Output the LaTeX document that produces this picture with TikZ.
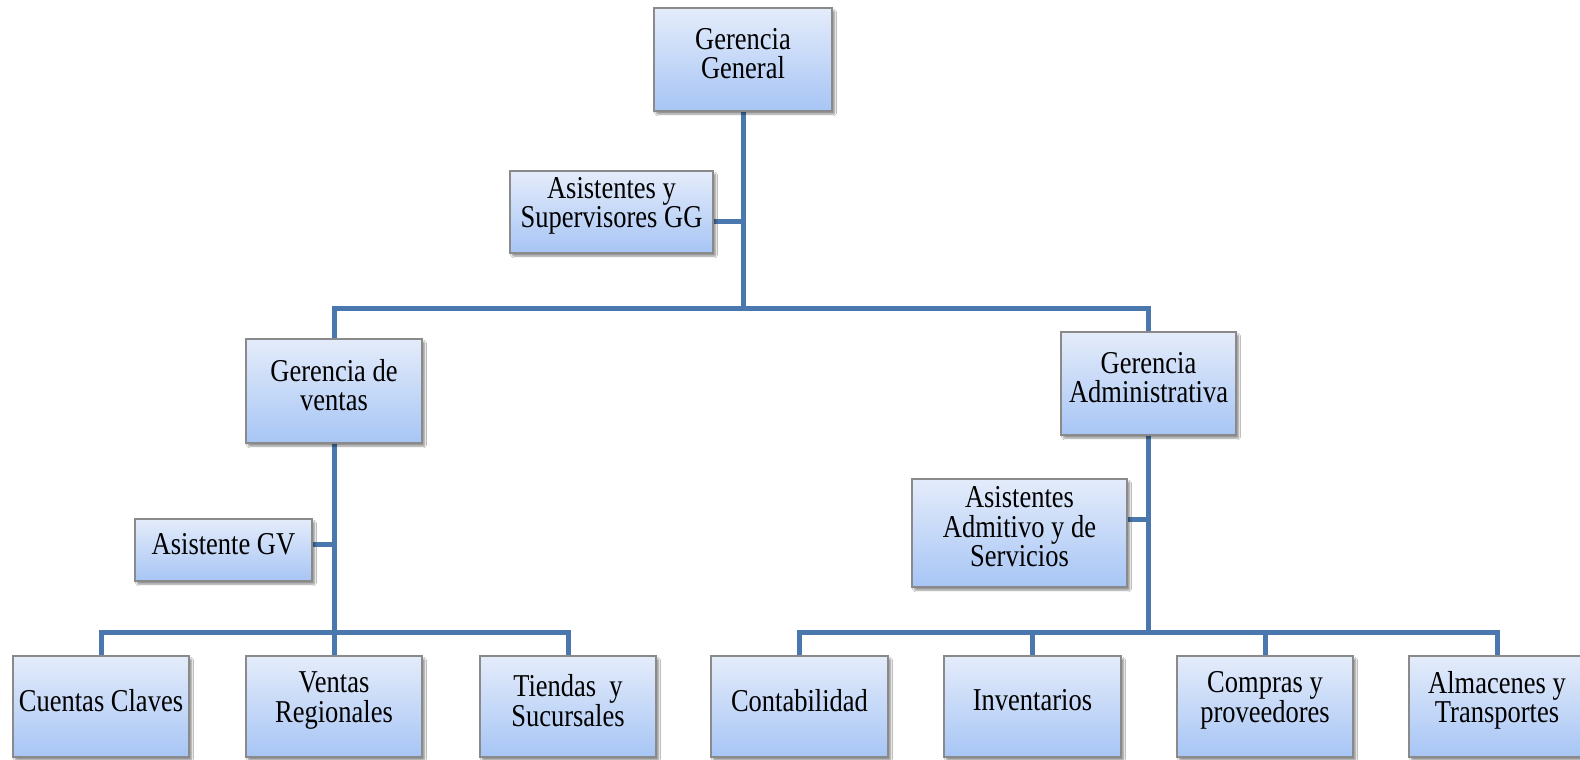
\documentclass[tikz,border=0pt]{standalone}
\usepackage{fontspec}
\setmainfont{Liberation Serif}
\usetikzlibrary{shadows.blur,backgrounds}
\definecolor{boxtop}{HTML}{E4ECFA}
\definecolor{boxbot}{HTML}{A7C5F5}
\definecolor{boxline}{HTML}{8A8A8A}
\definecolor{wire}{HTML}{4A78AE}
\tikzset{
  orgunit/.style={rectangle, draw=boxline, line width=1.3pt,
    top color=boxtop, bottom color=boxbot, inner sep=0pt,
    blur shadow={shadow xshift=2.5pt, shadow yshift=-3pt, shadow blur steps=6,
      shadow blur extra rounding=1pt, shadow opacity=45}},
  orglabel/.style={align=center, inner sep=0pt,
    font=\fontsize{26.5}{24.5}\selectfont},
  link/.style={draw=wire, line width=5pt},
}
% name, centre x, centre y, width, height, text (set a little taller than wide)
\newcommand\orgbox[6]{%
  \node[orgunit, minimum width=#4pt, minimum height=#5pt] (#1) at (#2,#3) {};
  \begin{scope}[shift={(#1.center)}, yscale=1.2]
    \node[orglabel, transform shape, yshift=5pt] (#1-txt) at (0,0) {#6};
  \end{scope}
}
\begin{document}
\begin{tikzpicture}[x=1pt, y=-1pt]
\useasboundingbox (0,0) rectangle (1580,760);

\orgbox{gg}{743}{59.5}{178}{103}{Gerencia\\General}
\orgbox{asg}{611.5}{212}{203}{82}{Asistentes y\\Supervisores GG}
\orgbox{gv}{334}{391}{176}{104}{Gerencia de\\ventas}
\orgbox{ga}{1148.5}{383.5}{175}{103}{Gerencia\\Administrativa}
\orgbox{agv}{223.5}{550}{177}{62}{Asistente GV}
\orgbox{aas}{1019.5}{533}{215}{108}{Asistentes\\Admitivo y de\\Servicios}

\orgbox{cc}{101}{706.5}{176}{101}{Cuentas Claves}
\orgbox{vr}{334}{706.5}{176}{101}{Ventas\\Regionales}
\orgbox{ts}{568}{706.5}{176}{101}{Tiendas\ \ y\\Sucursales}
\orgbox{ct}{799.5}{706.5}{177}{101}{Contabilidad}
\orgbox{inv}{1032.5}{706.5}{177}{101}{Inventarios}
\orgbox{cp}{1265}{706.5}{176}{101}{Compras y\\proveedores}
\orgbox{al}{1497}{706.5}{176}{101}{Almacenes y\\Transportes}

% bus levels
\coordinate (topbus) at (0,308);
\coordinate (lowbus) at (0,632);

\begin{pgfonlayer}{background}
  \fill[white] (0,0) rectangle (1580,760);
  % general management trunk and its staff branch
  \draw[link] (gg.south) -- (gg.south |- topbus);
  \draw[link] ([yshift=-9pt]asg.east) -- ([yshift=-9pt]asg.east -| gg.south);
  \draw[link] (gv.north) -- (gv.north |- topbus) -- (ga.north |- topbus) -- (ga.north);
  % sales branch
  \draw[link] (gv.south) -- (gv.south |- lowbus);
  \draw[link] ([yshift=6pt]agv.east) -- ([yshift=6pt]agv.east -| gv.south);
  \draw[link] (cc.north) -- (cc.north |- lowbus) -- (ts.north |- lowbus) -- (ts.north);
  \draw[link] (vr.north) -- (vr.north |- lowbus);
  % administration branch
  \draw[link] (ga.south) -- (ga.south |- lowbus);
  \draw[link] ([yshift=14pt]aas.east) -- ([yshift=14pt]aas.east -| ga.south);
  \draw[link] (ct.north) -- (ct.north |- lowbus) -- (al.north |- lowbus) -- (al.north);
  \draw[link] (inv.north) -- (inv.north |- lowbus);
  \draw[link] (cp.north) -- (cp.north |- lowbus);
\end{pgfonlayer}
\end{tikzpicture}
\end{document}
